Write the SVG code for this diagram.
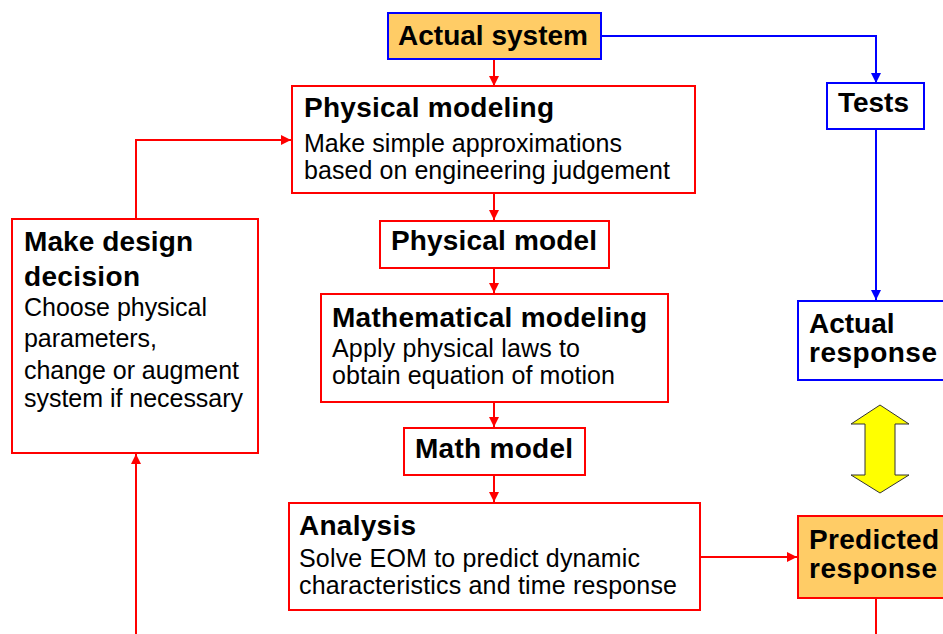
<svg xmlns="http://www.w3.org/2000/svg" width="943" height="634" viewBox="0 0 943 634">
<style>
.box{fill:#fff;stroke:#ff0000;stroke-width:2}
.bbox{fill:#fff;stroke:#0000ff;stroke-width:2}
.obox{fill:#ffcc66}
.t{font-family:"Liberation Sans",Arial,sans-serif;font-weight:bold;font-size:28px;fill:#000}
.b{font-family:"Liberation Sans",Arial,sans-serif;font-size:25px;fill:#000}
.r{fill:none;stroke:#ff0000;stroke-width:2}
.bl{fill:none;stroke:#0000ff;stroke-width:2}
</style>
<defs>
<marker id="ar" viewBox="0 0 10 10" refX="10" refY="5" markerWidth="5" markerHeight="5" orient="auto" markerUnits="strokeWidth"><path d="M0,0 L10,5 L0,10 z" fill="#ff0000"/></marker>
<marker id="ab" viewBox="0 0 10 10" refX="10" refY="5" markerWidth="5" markerHeight="5" orient="auto" markerUnits="strokeWidth"><path d="M0,0 L10,5 L0,10 z" fill="#0000ff"/></marker>
</defs>
<rect width="943" height="634" fill="#fff"/>
<g id="connectors">
<path class="bl" d="M601,36 H876 V83" marker-end="url(#ab)"/>
<path class="bl" d="M876,129 V300" marker-end="url(#ab)"/>
<path class="r" d="M494,59 V86" marker-end="url(#ar)"/>
<path class="r" d="M494,193 V220" marker-end="url(#ar)"/>
<path class="r" d="M494,268 V293" marker-end="url(#ar)"/>
<path class="r" d="M494,402 V427" marker-end="url(#ar)"/>
<path class="r" d="M494,475 V502" marker-end="url(#ar)"/>
<path class="r" d="M700,557 H797" marker-end="url(#ar)"/>
<path class="r" d="M876,598 V634"/>
<path class="r" d="M136,634 V454" marker-end="url(#ar)"/>
<path class="r" d="M136,219 V140 H291" marker-end="url(#ar)"/>
</g>
<g id="actual-system">
<rect x="388" y="13" width="213" height="46" class="obox" stroke="#0000ff" stroke-width="2"/>
<text class="t" x="398" y="45" textLength="190">Actual system</text>
</g>
<g id="tests">
<rect x="827" y="83" width="97" height="46" class="bbox"/>
<text class="t" x="838" y="112" textLength="71">Tests</text>
</g>
<g id="physical-modeling">
<rect x="292" y="86" width="403" height="107" class="box"/>
<text class="t" x="304" y="117" textLength="250">Physical modeling</text>
<text class="b" x="304" y="152" textLength="318">Make simple approximations</text>
<text class="b" x="304" y="179" textLength="366">based on engineering judgement</text>
</g>
<g id="physical-model">
<rect x="380" y="221" width="229" height="47" class="box"/>
<text class="t" x="391" y="250" textLength="206">Physical model</text>
</g>
<g id="mathematical-modeling">
<rect x="321" y="294" width="347" height="108" class="box"/>
<text class="t" x="332" y="327" textLength="315">Mathematical modeling</text>
<text class="b" x="332" y="357" textLength="248">Apply physical laws to</text>
<text class="b" x="332" y="384" textLength="283">obtain equation of motion</text>
</g>
<g id="math-model">
<rect x="404" y="428" width="181" height="47" class="box"/>
<text class="t" x="415" y="458" textLength="158">Math model</text>
</g>
<g id="analysis">
<rect x="289" y="503" width="411" height="107" class="box"/>
<text class="t" x="299" y="535" textLength="117">Analysis</text>
<text class="b" x="299" y="567" textLength="341">Solve EOM to predict dynamic</text>
<text class="b" x="299" y="594" textLength="378">characteristics and time response</text>
</g>
<g id="make-design-decision">
<rect x="12" y="219" width="246" height="234" class="box"/>
<text class="t" x="24" y="251" textLength="169">Make design</text>
<text class="t" x="24" y="286" textLength="116">decision</text>
<text class="b" x="24" y="316" textLength="183">Choose physical</text>
<text class="b" x="24" y="347" textLength="133">parameters,</text>
<text class="b" x="24" y="379" textLength="215">change or augment</text>
<text class="b" x="24" y="407" textLength="219">system if necessary</text>
</g>
<g id="actual-response">
<rect x="798" y="301" width="160" height="79" class="bbox"/>
<text class="t" x="809" y="333">Actual</text>
<text class="t" x="809" y="362" textLength="128">response</text>
</g>
<g id="compare-arrow">
<polygon points="880,405 909,424 895,424 895,475 909,475 880,493 851,475 865,475 865,424 851,424" fill="#ffff00" stroke="#333" stroke-width="1"/>
</g>
<g id="predicted-response">
<rect x="798" y="516" width="160" height="82" class="obox" stroke="#ff0000" stroke-width="2"/>
<text class="t" x="809" y="549" textLength="130">Predicted</text>
<text class="t" x="809" y="578" textLength="128">response</text>
</g>
</svg>
